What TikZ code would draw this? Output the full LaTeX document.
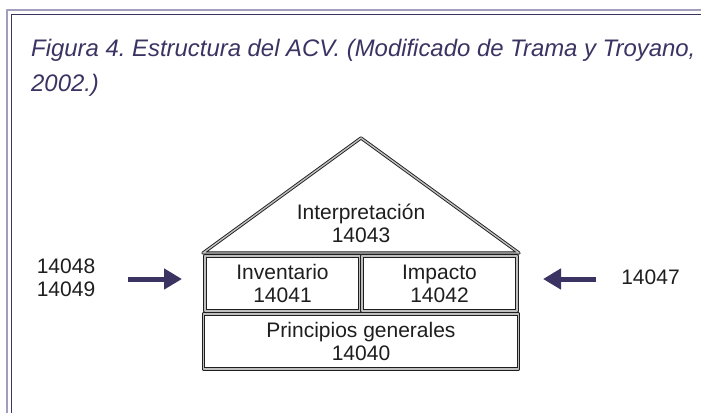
\documentclass[tikz,border=0pt]{standalone}
\usepackage{fontspec}
\setmainfont{Liberation Sans}
\usetikzlibrary{arrows.meta,positioning}
\definecolor{morado}{HTML}{3B3463}
\definecolor{lila}{HTML}{A29EBD}
\definecolor{texto}{HTML}{1E1E1E}
\frenchspacing
\tikzset{
  caja/.style={draw=texto, double=gray!50, double distance=1.4pt, line width=0.9pt,
    minimum width=155pt, minimum height=55pt, inner sep=0pt, align=center, text=texto},
  flecha/.style={morado, line width=5pt, -{Triangle[length=18pt,width=20pt]}},
  num/.style={align=center, text=texto}
}
\begin{document}
\begin{tikzpicture}[x=1pt,y=-1pt,font=\fontsize{21}{23}\selectfont,line join=round]
	\useasboundingbox (0,0) rectangle (701,413);
	\fill[white] (0,0) rectangle (701,413);
	% marco
	\draw[lila, line width=2pt] (6.5,413) -- (6.5,10) -- (701,10);
	\draw[morado, line width=1.2pt] (11.5,413) -- (11.5,14.5) -- (701,14.5);
	% titulo
	\node[anchor=base west, inner sep=0pt, text=morado, font=\itshape\fontsize{23.9}{35}\selectfont] (titulo) at (31,56.7) {Figura 4. Estructura del ACV. (Modificado de Trama y Troyano,};
	\node[anchor=base west, inner sep=0pt, text=morado, font=\itshape\fontsize{23.9}{35}\selectfont] (titulo2) at (31,91.7) {2002.)};
	% casa
	\node[caja] (inv) at (282.5,283.5) {Inventario\\14041};
	\node[caja] (imp) at (439.5,283.5) {Impacto\\14042};
	\node[caja, minimum width=315pt] (pri) at (361,341.5) {Principios generales\\14040};
	\coordinate (techo) at (361,138);
	\draw[draw=texto, double=gray!50, double distance=1.4pt, line width=0.9pt]
		(203,253) -- (techo) -- (519,253) -- cycle;
	\node[num] (interp) at (361,223) {Interpretaci\'on\\14043};
	% normas
	\node[num] (izq) at (66,277.5) {14048\\14049};
	\node[num] (der) at (650.5,277) {14047};
	\coordinate (ent1) at (128,279);
	\coordinate (sal1) at (182,279);
	\coordinate (ent2) at (596,279);
	\coordinate (sal2) at (543,279);
	\draw[flecha] (ent1) -- (sal1);
	\draw[flecha] (ent2) -- (sal2);
\end{tikzpicture}
\end{document}
